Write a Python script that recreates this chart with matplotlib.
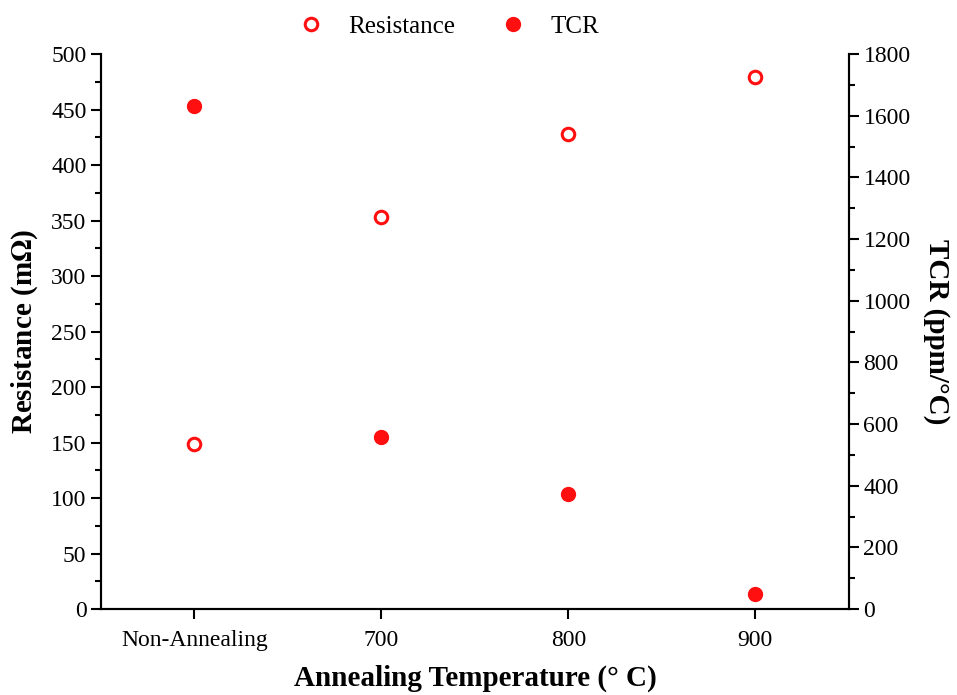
import numpy as np
import matplotlib.pyplot as plt
from matplotlib.ticker import MultipleLocator

plt.rcParams['font.family'] = ['Liberation Serif', 'DejaVu Serif']
plt.rcParams['mathtext.fontset'] = 'stix'

# data
categories = ['Non-Annealing', '700', '800', '900']
resistance = [149, 353, 428, 479]      # mOhm
tcr = [1632, 558, 372, 50]             # ppm/C

x = np.arange(len(categories))

fig = plt.figure(figsize=(9.57, 6.95), dpi=100)
ax = fig.add_axes([0.1055, 0.1237, 0.7815, 0.7986])
ax2 = ax.twinx()

red = '#ff0f0f'
l1, = ax.plot(x, resistance, 'o', mfc='white', mec=red, mew=2.2, ms=9, ls='none', label='Resistance')
l2, = ax2.plot(x, tcr, 'o', color=red, ms=10, ls='none', label='TCR')

ax.set_xlim(-0.5, 3.5)
ax.set_ylim(0, 500)
ax2.set_ylim(0, 1800)
ax.set_xticks(x)
ax.set_xticklabels(categories)
ax.yaxis.set_major_locator(MultipleLocator(50))
ax.yaxis.set_minor_locator(MultipleLocator(25))
ax2.yaxis.set_major_locator(MultipleLocator(200))
ax2.yaxis.set_minor_locator(MultipleLocator(100))

for a in (ax, ax2):
    a.spines['top'].set_visible(False)
    for s in a.spines.values():
        s.set_linewidth(1.5)
    a.tick_params(which='major', direction='out', length=7, width=1.5, labelsize=17)
    a.tick_params(which='minor', direction='out', length=4, width=1.5)
ax.tick_params(axis='x', pad=8)

ax.set_xlabel('Annealing Temperature (° C)', fontsize=21, fontweight='bold', labelpad=10)
ax.set_ylabel('Resistance (m$\\mathbf{\\Omega}$)', fontsize=21, fontweight='bold', labelpad=8)
ax2.set_ylabel('TCR (ppm/°C)', fontsize=21, fontweight='bold', rotation=270, labelpad=28)

fig.legend([l1, l2], ['Resistance', 'TCR'], loc='upper center', bbox_to_anchor=(0.4625, 1.01),
           ncol=2, frameon=False, fontsize=18, handletextpad=0.5, columnspacing=1.3)

fig.savefig('out.png', dpi=100)
